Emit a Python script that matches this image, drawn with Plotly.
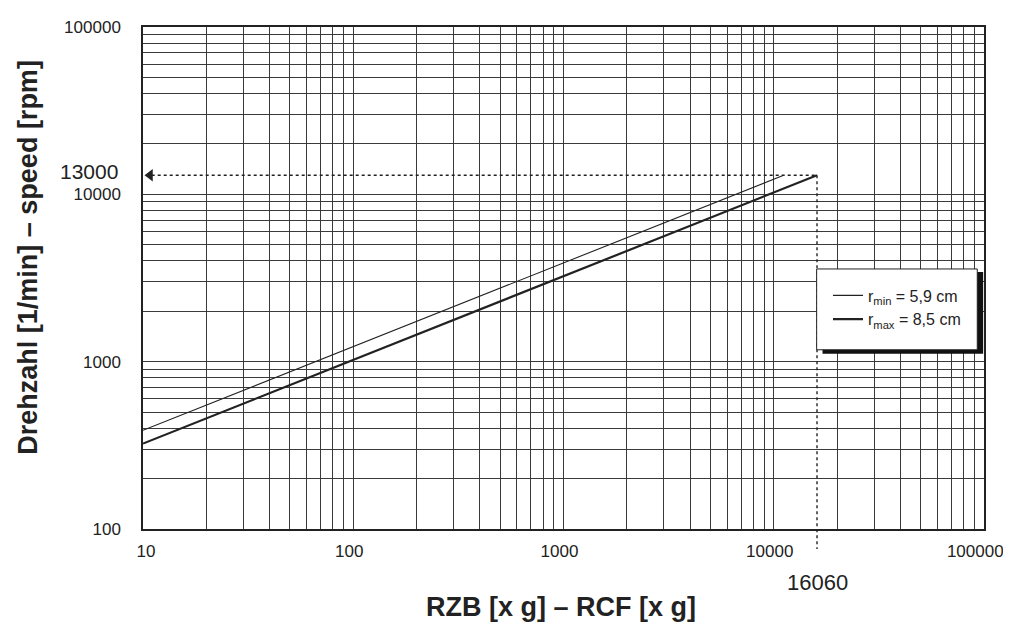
import numpy as np
import plotly.graph_objects as go

# ---- data ----
rcf_rmin = [10, 11150]        # RZB / RCF [x g], r_min = 5,9 cm
speed_rmin = [389, 13000]     # rpm
rcf_rmax = [10, 16060]        # r_max = 8,5 cm
speed_rmax = [324, 13000]
mark_rcf = 16060
mark_speed = 13000
x_ticks = [10, 100, 1000, 10000, 100000]
y_ticks = [100, 1000, 10000, 100000]
x_ticktext = ["\u00a0\u00a0\u00a010", "100", "1000", "10000", "100000\u00a0\u00a0"]
y_ticktext = ["100", "1000", "10000", "100000"]

INK = "#222222"
GRID = "#3a3a3a"
font = "Liberation Sans, Arial, sans-serif"

fig = go.Figure()
fig.add_trace(go.Scatter(x=rcf_rmin, y=speed_rmin, mode="lines",
                         line=dict(color=INK, width=1.1),
                         name="r<sub>min</sub> = 5,9 cm"))
fig.add_trace(go.Scatter(x=rcf_rmax, y=speed_rmax, mode="lines",
                         line=dict(color=INK, width=2.2),
                         name="r<sub>max</sub> = 8,5 cm"))

# arrowheads
fig.add_trace(go.Scatter(x=[x_ticks[0] * 1.08], y=[mark_speed], mode="markers",
                         marker=dict(symbol="triangle-left", size=11, color=INK),
                         cliponaxis=False, showlegend=False, hoverinfo="skip"))
fig.add_trace(go.Scatter(x=[mark_rcf], y=[y_ticks[0] * 0.71], mode="markers",
                         marker=dict(symbol="triangle-down", size=11, color=INK),
                         cliponaxis=False, showlegend=False, hoverinfo="skip"))

xr = [np.log10(x_ticks[0]), np.log10(x_ticks[-1])]
yr = [np.log10(y_ticks[0]), np.log10(y_ticks[-1])]
y_mark_paper = (np.log10(mark_speed) - yr[0]) / (yr[1] - yr[0])

shapes = [
    dict(type="line", xref="x", yref="y", x0=x_ticks[0] * 1.1, x1=mark_rcf,
         y0=mark_speed, y1=mark_speed, line=dict(color=INK, width=1.4, dash="3px,3px")),
    dict(type="line", xref="x", yref="paper", x0=mark_rcf, x1=mark_rcf,
         y0=y_mark_paper, y1=-0.04, line=dict(color=INK, width=1.4, dash="3px,3px")),
    # legend shadow and box
    dict(type="rect", xref="paper", yref="paper", x0=0.808, x1=0.999, y0=0.349, y1=0.512,
         fillcolor="#111111", line=dict(width=0), layer="above"),
    dict(type="rect", xref="paper", yref="paper", x0=0.801, x1=0.992, y0=0.357, y1=0.518,
         fillcolor="white", line=dict(color=INK, width=1), layer="above"),
]

annotations = [
    dict(text="13000", xref="paper", yref="y", x=-0.027, y=np.log10(mark_speed),
         xanchor="right", yanchor="middle", yshift=4, showarrow=False,
         font=dict(size=21, color=INK, family=font)),
    dict(text="16060", xref="x", yref="paper", x=np.log10(mark_rcf), y=-0.106,
         xanchor="center", yanchor="middle", showarrow=False,
         font=dict(size=22, color=INK, family=font)),
    dict(text="<b>RZB [x g] – RCF [x g]</b>", xref="paper", yref="paper",
         x=0.497, y=-0.155, xanchor="center", yanchor="middle", showarrow=False,
         font=dict(size=27, color=INK, family=font)),
    dict(text="<b>Drehzahl [1/min] – speed [rpm]</b>", xref="paper", yref="paper",
         x=-0.137, y=0.542, xanchor="center", yanchor="middle", textangle=-90,
         showarrow=False, font=dict(size=27, color=INK, family=font)),
]

axis_common = dict(type="log", showline=True, linecolor=INK, linewidth=1.5, mirror=True,
                   showgrid=True, gridcolor=GRID, gridwidth=1, ticks="", zeroline=False,
                   ticklabeloverflow="allow", automargin=False,
                   tickfont=dict(size=17, color=INK, family=font),
                   minor=dict(dtick="D1", showgrid=True, gridcolor=GRID, gridwidth=1, ticks=""))

fig.update_layout(
    width=1011, height=627,
    margin=dict(l=135, r=35, t=19, b=106),
    paper_bgcolor="white", plot_bgcolor="white",
    xaxis=dict(range=xr, tickvals=x_ticks, ticktext=x_ticktext, ticklabelstandoff=6,
               ticklabelshift=-4, **axis_common),
    yaxis=dict(range=yr, tickvals=y_ticks, ticktext=y_ticktext, ticklabelstandoff=17, **axis_common),
    shapes=shapes, annotations=annotations,
    legend=dict(x=0.8145, y=0.499, xanchor="left", yanchor="top", bgcolor="rgba(0,0,0,0)",
                borderwidth=0, font=dict(size=16, color=INK, family=font), itemwidth=30,
                tracegroupgap=0),
    showlegend=True,
)

fig.write_html("out.html")
